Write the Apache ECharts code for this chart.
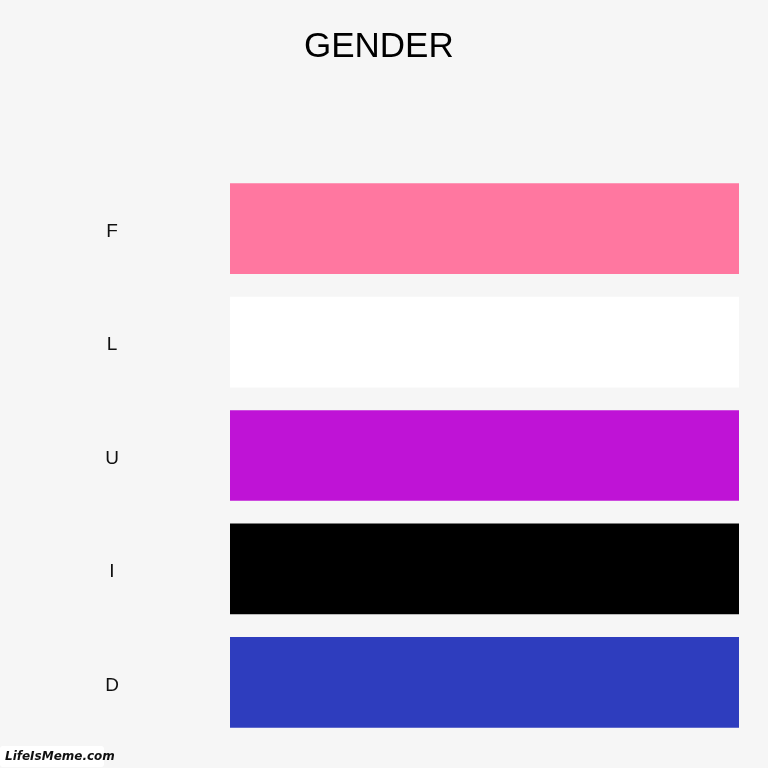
<!DOCTYPE html>
<html>
<head>
<meta charset="utf-8">
<script src="https://cdn.jsdelivr.net/npm/echarts@6/dist/echarts.min.js"></script>
<style>
html,body{margin:0;padding:0;background:#f6f6f6;}
#c{width:768px;height:768px;}
</style>
</head>
<body>
<div id="c"></div>
<script>
const titleText = "GENDER";
const categories = ["F", "L", "U", "I", "D"];
const values = [100, 100, 100, 100, 100];
const barColors = ["#ff77a0", "#ffffff", "#bf13d6", "#000000", "#2e3dbe"];

const chart = echarts.init(document.getElementById('c'));
chart.setOption({
  backgroundColor: '#f6f6f6',
  animation: false,
  title: {
    text: titleText,
    left: 299,
    top: 25,
    textStyle: { fontFamily: 'Liberation Sans', fontWeight: 'normal', fontSize: 35, color: '#000' }
  },
  grid: { left: 230, right: 29, top: 172, bottom: 29 },
  xAxis: {
    type: 'value', min: 0, max: 100, show: false
  },
  yAxis: {
    type: 'category',
    data: categories,
    inverse: true,
    axisLine: { show: false },
    axisTick: { show: false },
    splitLine: { show: false },
    axisLabel: {
      align: 'center',
      margin: 118,
      formatter: v => '{a|' + v + '}',
      rich: {
        a: { fontFamily: 'Liberation Sans', fontSize: 19, color: '#111', padding: [6, 0, 0, 0] }
      }
    }
  },
  series: [{
    type: 'bar',
    data: values.map((v, i) => ({ value: v, itemStyle: { color: barColors[i] } })),
    barCategoryGap: '20%'
  }],
  graphic: [
    { type: 'rect', z: 100, shape: { x: 0, y: 746, width: 104, height: 21, r: 3 }, style: { fill: '#ffffff' } },
    { type: 'text', z: 101, x: 5, y: 757, style: { text: 'LifeIsMeme.com', fontFamily: 'DejaVu Sans', fontWeight: 'bold', fontStyle: 'italic', fontSize: 12, fill: '#111', textVerticalAlign: 'middle' } }
  ]
});
</script>
</body>
</html>
